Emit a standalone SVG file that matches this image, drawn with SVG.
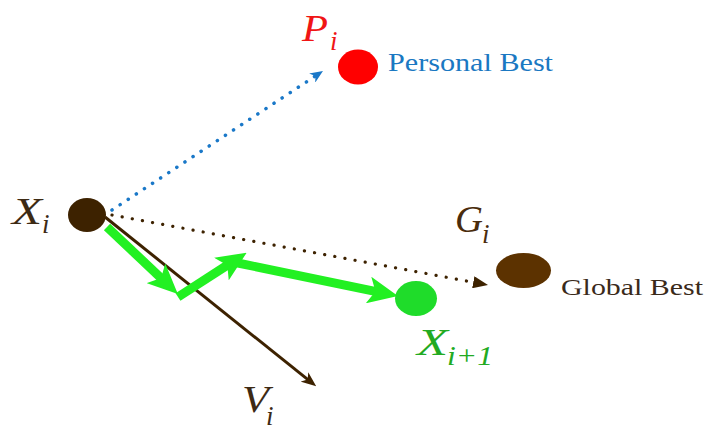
<svg xmlns="http://www.w3.org/2000/svg" width="709" height="434" viewBox="0 0 709 434">
<style>
.lbl{font-family:"Liberation Serif","Times New Roman",serif;font-style:italic;font-size:38px;}
.sub{font-family:"Liberation Serif","Times New Roman",serif;font-style:italic;font-size:27px;}
.cap{font-family:"Liberation Serif","Times New Roman",serif;}
.brown{fill:#3d2a14;}
</style>
<defs>
<marker id="mBlue" markerUnits="userSpaceOnUse" viewBox="0 0 13 11" refX="5" refY="5.5" markerWidth="13" markerHeight="11" orient="auto">
<path d="M0,0 L13,5.5 L0,11 L4,5.5 z" fill="#1a78c8"/>
</marker>
<marker id="mBrownDot" markerUnits="userSpaceOnUse" viewBox="0 0 15 12" refX="4" refY="6" markerWidth="15" markerHeight="12" orient="auto">
<path d="M0,0 L15,6 L0,12 z" fill="#3d2200"/>
</marker>
<marker id="mV" markerUnits="userSpaceOnUse" viewBox="0 0 15 12" refX="6" refY="6" markerWidth="15" markerHeight="12" orient="auto">
<path d="M0,0 L15,6 L0,12 L4,6 z" fill="#3d2200"/>
</marker>
<marker id="mGreen" markerUnits="userSpaceOnUse" viewBox="0 0 30 27" refX="14" refY="13.5" markerWidth="30" markerHeight="27" orient="auto">
<path d="M0,0 L30,13.5 L0,27 L7,13.5 z" fill="#22f022"/>
</marker>
</defs>

<g id="connectors">
<path d="M112,210 L316.3,75.4" fill="none" stroke="#1a78c8" stroke-width="3.5" stroke-linecap="round" stroke-dasharray="0.1 9.6" marker-end="url(#mBlue)"/>
<path d="M112,215 L477.2,283" fill="none" stroke="#3d2200" stroke-width="3.2" stroke-linecap="round" stroke-dasharray="0.1 10.2" marker-end="url(#mBrownDot)"/>
<path d="M105,217 L309.2,380.7" fill="none" stroke="#3d2200" stroke-width="3" marker-end="url(#mV)"/>
<path d="M107,227 L166.2,282.9" fill="none" stroke="#22f022" stroke-width="9" marker-end="url(#mGreen)"/>
<path d="M178,297 L233.2,261.4" fill="none" stroke="#22f022" stroke-width="9" marker-end="url(#mGreen)"/>
<path d="M233,262 L382.3,292.8" fill="none" stroke="#22f022" stroke-width="9" marker-end="url(#mGreen)"/>
</g>

<g id="node-xi">
<ellipse cx="87" cy="215" rx="19" ry="17" fill="#3d2200"/>
<text class="lbl brown" x="12" y="224" textLength="30" lengthAdjust="spacingAndGlyphs">X</text>
<text class="sub brown" x="42" y="233">i</text>
</g>

<g id="node-pi">
<ellipse cx="358" cy="67" rx="20" ry="17.5" fill="#ff0000"/>
<text class="lbl" x="302" y="41" fill="#f01515" textLength="26" lengthAdjust="spacingAndGlyphs">P</text>
<text class="sub" x="330" y="50" fill="#f01515">i</text>
<text class="cap" x="388" y="71" font-size="26" fill="#1a78c2" textLength="165" lengthAdjust="spacingAndGlyphs">Personal Best</text>
</g>

<g id="node-gi">
<ellipse cx="523.5" cy="270.5" rx="27.5" ry="17.5" fill="#5c3200"/>
<text class="lbl" x="455" y="232" fill="#4a2c0c" textLength="28" lengthAdjust="spacingAndGlyphs">G</text>
<text class="sub" x="482" y="243" fill="#4a2c0c">i</text>
<text class="cap" x="561" y="295" font-size="24" fill="#3a2a1a" textLength="142" lengthAdjust="spacingAndGlyphs">Global Best</text>
</g>

<g id="node-xi1">
<ellipse cx="416" cy="298.5" rx="21" ry="17.5" fill="#1fdc2a"/>
<text class="lbl" x="417" y="355" fill="#22aa22" textLength="31" lengthAdjust="spacingAndGlyphs">X</text>
<text class="sub" x="447" y="365" fill="#22aa22" textLength="46" lengthAdjust="spacingAndGlyphs">i+1</text>
</g>

<g id="node-vi">
<text class="lbl brown" x="242" y="412" textLength="27" lengthAdjust="spacingAndGlyphs">V</text>
<text class="sub brown" x="266" y="425">i</text>
</g>
</svg>
